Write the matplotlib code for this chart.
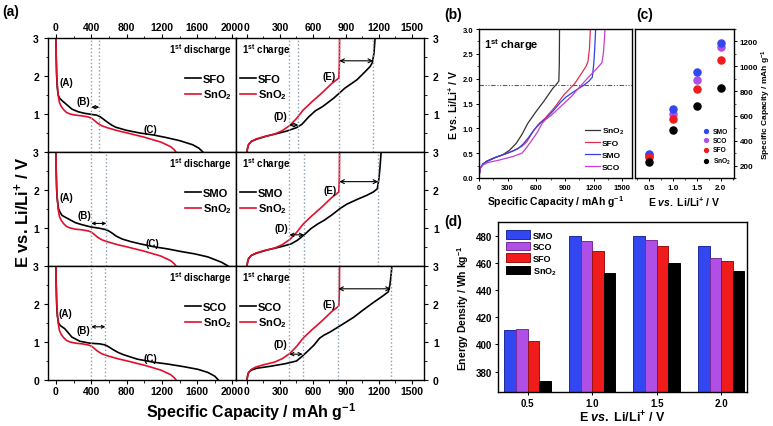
import numpy as np
import matplotlib
matplotlib.use('Agg')
import matplotlib.pyplot as plt
from matplotlib.ticker import MultipleLocator, FixedLocator

plt.rcParams['font.family'] = ['Liberation Sans', 'DejaVu Sans']
plt.rcParams['font.weight'] = 'bold'
plt.rcParams['axes.labelweight'] = 'bold'
plt.rcParams['mathtext.fontset'] = 'custom'
plt.rcParams['mathtext.rm'] = 'Liberation Sans:bold'
plt.rcParams['mathtext.it'] = 'Liberation Sans:italic:bold'
plt.rcParams['mathtext.bf'] = 'Liberation Sans:bold'
plt.rcParams['axes.linewidth'] = 1.0

# ---- data ----
# first discharge (capacity mAh/g, voltage V)
sno2_dis_cap = [0, 3, 8, 15, 25, 40, 60, 85, 120, 160, 220, 300, 370, 410, 440, 470, 520, 580, 700, 810, 1000, 1190, 1300, 1340, 1360]
sno2_dis_v = [3.0, 2.5, 2.1, 1.8, 1.5, 1.3, 1.2, 1.12, 1.04, 1.0, 0.97, 0.95, 0.92, 0.88, 0.82, 0.76, 0.69, 0.64, 0.56, 0.5, 0.39, 0.26, 0.14, 0.06, 0.0]
sfo_dis_cap = [0, 3, 8, 15, 25, 40, 70, 120, 180, 250, 320, 400, 460, 500, 540, 580, 630, 680, 800, 950, 1100, 1250, 1400, 1550, 1620, 1665]
sfo_dis_v = [3.0, 2.5, 2.0, 1.7, 1.5, 1.42, 1.35, 1.25, 1.13, 1.06, 1.02, 0.99, 0.97, 0.93, 0.86, 0.79, 0.71, 0.65, 0.57, 0.5, 0.45, 0.38, 0.3, 0.19, 0.1, 0.0]
smo_dis_cap = [0, 3, 8, 15, 30, 50, 70, 140, 220, 290, 390, 500, 560, 600, 640, 680, 750, 850, 960, 1100, 1265, 1420, 1570, 1720, 1875, 1950]
smo_dis_v = [3.0, 2.5, 2.0, 1.75, 1.5, 1.4, 1.33, 1.24, 1.14, 1.09, 1.03, 0.99, 0.96, 0.92, 0.86, 0.79, 0.71, 0.64, 0.58, 0.51, 0.45, 0.38, 0.32, 0.24, 0.1, 0.0]
sco_dis_cap = [0, 3, 8, 15, 30, 50, 100, 180, 270, 380, 500, 560, 600, 640, 700, 760, 920, 1100, 1265, 1450, 1610, 1720, 1800, 1840]
sco_dis_v = [3.0, 2.5, 2.0, 1.7, 1.5, 1.43, 1.35, 1.13, 1.02, 0.97, 0.95, 0.92, 0.87, 0.81, 0.73, 0.67, 0.55, 0.47, 0.42, 0.35, 0.28, 0.2, 0.1, 0.0]

# first charge
sno2_chg_cap = [0, 5, 15, 40, 80, 150, 250, 320, 390, 450, 510, 590, 680, 770, 815, 835, 840, 842]
sno2_chg_v = [0.0, 0.1, 0.2, 0.28, 0.34, 0.4, 0.47, 0.56, 0.7, 0.88, 1.1, 1.32, 1.55, 1.8, 1.9, 1.95, 2.3, 3.0]
sfo_chg_cap = [0, 5, 15, 40, 90, 180, 280, 360, 450, 500, 560, 620, 690, 790, 890, 1000, 1070, 1120, 1140, 1155, 1165]
sfo_chg_v = [0.0, 0.1, 0.2, 0.28, 0.34, 0.42, 0.49, 0.55, 0.64, 0.73, 0.92, 1.08, 1.2, 1.42, 1.68, 1.9, 2.1, 2.25, 2.35, 2.6, 3.0]
smo_chg_cap = [0, 5, 15, 40, 90, 180, 300, 400, 460, 520, 580, 640, 700, 770, 850, 910, 1000, 1090, 1150, 1185, 1200, 1210, 1220]
smo_chg_v = [0.0, 0.1, 0.2, 0.28, 0.34, 0.42, 0.5, 0.58, 0.68, 0.82, 0.98, 1.1, 1.2, 1.34, 1.52, 1.63, 1.75, 1.86, 1.95, 2.03, 2.3, 2.6, 3.0]
sco_chg_cap = [0, 5, 15, 40, 90, 210, 350, 450, 500, 560, 610, 660, 700, 760, 860, 970, 1060, 1150, 1230, 1285, 1300, 1310, 1318]
sco_chg_v = [0.0, 0.1, 0.2, 0.26, 0.31, 0.36, 0.43, 0.5, 0.62, 0.78, 0.92, 1.1, 1.18, 1.27, 1.45, 1.65, 1.85, 2.04, 2.2, 2.32, 2.5, 2.75, 3.0]

row_names = ['SFO', 'SMO', 'SCO']
dis_cap = [sfo_dis_cap, smo_dis_cap, sco_dis_cap]
dis_v = [sfo_dis_v, smo_dis_v, sco_dis_v]
chg_cap = [sfo_chg_cap, smo_chg_cap, sco_chg_cap]
chg_v = [sfo_chg_v, smo_chg_v, sco_chg_v]

# guide lines and arrows in (a)
dis_guides = [[396, 491], [396, 571], [396, 560]]
chg_guides = [[385, 467, 839, 1148], [385, 518, 839, 1194], [385, 506, 830, 1309]]
b_arrow_v = [1.18, 1.12, 1.4]
d_arrow_v = [0.71, 0.82, 0.68]
e_arrow_v = [2.4, 2.22, 2.4]
a_pos = [(122, 1.83), (122, 1.81), (103, 1.75)]
b_pos = [(310, 1.35), (320, 1.34), (312, 1.32)]
c_pos = [(1074, 0.6), (1093, 0.6), (1074, 0.58)]
d_pos = [(300, 0.94), (315, 0.99), (306, 0.95)]
e_pos = [(748, 2.0), (755, 2.0), (750, 2.0)]

# (c) and (d)
cutoff = [0.5, 1.0, 1.5, 2.0]
materials = ['SMO', 'SCO', 'SFO', 'SnO$_2$']
colors = ['#3347f0', '#b04fe6', '#f01b1b', '#000000']
edge_colors = ['#1d2a9c', '#7a2a9c', '#a01010', '#000000']
cap_smo = [295, 653, 952, 1187]
cap_sco = [283, 619, 893, 1152]
cap_sfo = [270, 573, 813, 1048]
cap_sno2 = [225, 485, 680, 827]
ed_smo = [410.6, 479.5, 479.5, 472.0]
ed_sco = [411.4, 476.0, 477.0, 463.3]
ed_sfo = [402.3, 469.0, 472.0, 461.0]
ed_sno2 = [373.4, 452.5, 460.0, 454.0]

W, H = 773, 427
fig = plt.figure(figsize=(W / 100, H / 100), dpi=100)


def box(x0, y0, x1, y1):
    return [x0 / W, 1 - y1 / H, (x1 - x0) / W, (y1 - y0) / H]


red = '#e0102c'
guide_c = '#8c9db0'
row_top = [39, 153, 267]
row_h = 114

for i in range(3):
    y0 = row_top[i]
    axd = fig.add_axes(box(48, y0, 236, y0 + row_h))
    axc = fig.add_axes(box(236, y0, 424, y0 + row_h))

    # discharge
    axd.plot(dis_cap[i], dis_v[i], color='black', lw=1.2, label=row_names[i])
    axd.plot(sno2_dis_cap, sno2_dis_v, color=red, lw=1.2, label='SnO$_2$')
    for g in dis_guides[i]:
        axd.axvline(g, color=guide_c, ls=':', lw=1.0)
    axd.annotate('', xy=(dis_guides[i][1], b_arrow_v[i]), xytext=(dis_guides[i][0] + 5, b_arrow_v[i]),
                 arrowprops=dict(arrowstyle='<->', lw=0.8, color='black', mutation_scale=5, shrinkA=0, shrinkB=0))
    axd.text(*a_pos[i], '(A)', fontsize=7, ha='center', va='center')
    axd.text(*b_pos[i], '(B)', fontsize=7, ha='center', va='center')
    axd.text(*c_pos[i], '(C)', fontsize=7, ha='center', va='center')
    axd.text(0.975, 0.9, r'1$^{\mathrm{st}}$ discharge', transform=axd.transAxes, fontsize=7, ha='right', va='center')
    axd.legend(loc='upper right', bbox_to_anchor=(1.02, 0.75), frameon=False, fontsize=8,
               handlelength=1.4, handletextpad=0.2, labelspacing=0.3, borderpad=0.2)
    axd.set_xlim(-90, 2040)
    axd.set_ylim(0, 3)

    # charge
    axc.plot(chg_cap[i], chg_v[i], color='black', lw=1.2, label=row_names[i])
    axc.plot(sno2_chg_cap, sno2_chg_v, color=red, lw=1.2, label='SnO$_2$')
    for g in chg_guides[i]:
        axc.axvline(g, color=guide_c, ls=':', lw=1.0)
    cg = chg_guides[i]
    axc.annotate('', xy=(cg[1], d_arrow_v[i]), xytext=(cg[0], d_arrow_v[i]),
                 arrowprops=dict(arrowstyle='<->', lw=0.8, color='black', mutation_scale=6, shrinkA=0, shrinkB=0))
    axc.annotate('', xy=(cg[3], e_arrow_v[i]), xytext=(cg[2], e_arrow_v[i]),
                 arrowprops=dict(arrowstyle='<->', lw=0.8, color='black', mutation_scale=7, shrinkA=0, shrinkB=0))
    axc.text(*d_pos[i], '(D)', fontsize=7, ha='center', va='center')
    axc.text(*e_pos[i], '(E)', fontsize=7, ha='center', va='center')
    axc.text(0.03, 0.9, r'1$^{\mathrm{st}}$ charge', transform=axc.transAxes, fontsize=7, ha='left', va='center')
    axc.legend(loc='upper left', bbox_to_anchor=(-0.02, 0.75), frameon=False, fontsize=8,
               handlelength=1.4, handletextpad=0.2, labelspacing=0.3, borderpad=0.2)
    axc.set_xlim(-100, 1610)
    axc.set_ylim(0, 3)

    # ticks
    yt = [0, 1, 2, 3] if i == 2 else [1, 2, 3]
    axd.yaxis.set_major_locator(FixedLocator(yt))
    axd.yaxis.set_minor_locator(MultipleLocator(0.5))
    axd.tick_params(axis='y', which='both', left=True, right=False, direction='out', labelsize=7.5)
    axc.yaxis.tick_right()
    axc.yaxis.set_major_locator(FixedLocator(yt))
    axc.yaxis.set_minor_locator(MultipleLocator(0.5))
    axc.tick_params(axis='y', which='both', left=False, right=True, direction='out', labelsize=7.5)
    axd.xaxis.set_major_locator(MultipleLocator(400))
    axd.xaxis.set_minor_locator(MultipleLocator(200))
    axc.xaxis.set_major_locator(MultipleLocator(300))
    axc.xaxis.set_minor_locator(MultipleLocator(150))
    for ax in (axd, axc):
        ax.tick_params(which='major', length=3, width=0.8)
        ax.tick_params(which='minor', length=1.8, width=0.6)
        if i == 0:
            ax.xaxis.tick_top()
            ax.tick_params(axis='x', which='both', top=True, bottom=False, direction='out', labelsize=7.5, pad=1.5)
        elif i == 2:
            ax.tick_params(axis='x', which='both', top=False, bottom=True, direction='out', labelsize=7.5, pad=1.5)
        else:
            ax.tick_params(axis='x', which='both', top=False, bottom=False, labelbottom=False)

fig.text(22 / W, 1 - 212 / H, 'E vs. Li/Li$^{+}$ / V', rotation=90, ha='center', va='center', fontsize=12)
fig.text(251 / W, 1 - 412 / H, 'Specific Capacity / mAh g$^{-1}$', ha='center', va='center', fontsize=11.5)

# ---- (b) ----
axb = fig.add_axes(box(479, 30, 632, 179))
b_caps = [sno2_chg_cap, sfo_chg_cap, smo_chg_cap, sco_chg_cap]
b_vs = [sno2_chg_v, sfo_chg_v, smo_chg_v, sco_chg_v]
b_labels = ['SnO$_2$', 'SFO', 'SMO', 'SCO']
b_colors = ['#333333', '#e0304e', '#3040e8', '#c040d0']
for c, v, lab, col in zip(b_caps, b_vs, b_labels, b_colors):
    axb.plot(c, v, color=col, lw=0.9, label=lab)
axb.axhline(1.88, color='#4a5a80', lw=0.8, ls=(0, (4, 1.5, 1, 1.5, 1, 1.5)))
axb.set_xlim(0, 1600)
axb.set_ylim(0, 3)
axb.xaxis.set_major_locator(MultipleLocator(300))
axb.xaxis.set_minor_locator(MultipleLocator(150))
axb.yaxis.set_major_locator(MultipleLocator(0.5))
axb.yaxis.set_minor_locator(MultipleLocator(0.25))
axb.yaxis.set_major_formatter(plt.FormatStrFormatter('%.1f'))
axb.tick_params(which='major', length=2.5, width=0.7, labelsize=5.5, pad=1.5)
axb.tick_params(which='minor', length=1.5, width=0.5)
axb.set_xlabel('Specific Capacity / mAh g$^{-1}$', fontsize=7.5, labelpad=2)
axb.set_ylabel('E vs. Li/Li$^{+}$ / V', fontsize=7.5, labelpad=2)
axb.text(0.03, 0.95, r'1$^{\mathrm{st}}$ charge', transform=axb.transAxes, fontsize=8, ha='left', va='top')
axb.legend(loc='lower right', bbox_to_anchor=(1.0, 0.0), frameon=False, fontsize=6,
           handlelength=1.8, handletextpad=0.3, labelspacing=0.45)

# ---- (c) ----
axcc = fig.add_axes(box(635, 30, 734, 179))
c_series = [cap_smo, cap_sco, cap_sfo, cap_sno2]
draw_order = [1, 0, 2, 3]
handles = {}
for k in draw_order:
    handles[k] = axcc.scatter(cutoff, c_series[k], s=26, color=colors[k], label=materials[k], zorder=3)
axcc.set_xlim(0.2, 2.28)
axcc.set_ylim(100, 1300)
axcc.yaxis.tick_right()
axcc.yaxis.set_label_position('right')
axcc.yaxis.set_major_locator(MultipleLocator(200))
axcc.yaxis.set_minor_locator(MultipleLocator(100))
axcc.xaxis.set_major_locator(FixedLocator(cutoff))
axcc.xaxis.set_minor_locator(MultipleLocator(0.25))
axcc.tick_params(which='major', length=2.5, width=0.7, labelsize=5.8, pad=1.5)
axcc.tick_params(which='minor', length=1.5, width=0.5)
axcc.set_ylabel('Specific Capacity / mAh g$^{-1}$', fontsize=6, labelpad=1)
axcc.set_xlabel('E $\\it{vs.}$ Li/Li$^{+}$ / V', fontsize=7.5, labelpad=3)
axcc.legend([handles[k] for k in range(4)], materials, loc='lower right', bbox_to_anchor=(1.02, 0.05),
            frameon=False, fontsize=4.8, markerscale=0.55, handletextpad=0.1, labelspacing=0.35, borderpad=0.2)

# ---- (d) ----
axdd = fig.add_axes(box(498, 223, 747, 393))
ed_series = [ed_smo, ed_sco, ed_sfo, ed_sno2]
bw = 0.09
x = np.array(cutoff)
for k in range(4):
    axdd.bar(x + (k - 1.5) * bw, ed_series[k], width=bw, color=colors[k], edgecolor=edge_colors[k], lw=0.7, label=materials[k])
axdd.set_xlim(0.27, 2.2)
axdd.set_ylim(365, 490)
axdd.xaxis.set_major_locator(FixedLocator(cutoff))
axdd.yaxis.set_major_locator(MultipleLocator(20))
axdd.xaxis.set_major_formatter(plt.FormatStrFormatter('%.1f'))
axdd.tick_params(which='major', length=2.5, width=0.7, labelsize=7, pad=2)
axdd.set_ylabel('Energy Density / Wh kg$^{-1}$', fontsize=7.5, labelpad=3)
axdd.set_xlabel('E $\\it{vs.}$ Li/Li$^{+}$ / V', fontsize=9, labelpad=1)
axdd.legend(loc='upper left', frameon=False, fontsize=6.5, handlelength=2.6, handleheight=1.1,
            handletextpad=0.4, labelspacing=0.25, borderpad=0.4)

# panel labels
fig.text(11 / W, 1 - 12 / H, '(a)', fontsize=10, ha='center', va='center')
fig.text(453 / W, 1 - 15 / H, '(b)', fontsize=10, ha='center', va='center')
fig.text(645 / W, 1 - 15 / H, '(c)', fontsize=10, ha='center', va='center')
fig.text(453 / W, 1 - 222 / H, '(d)', fontsize=10, ha='center', va='center')

fig.savefig('out.png', dpi=100)
